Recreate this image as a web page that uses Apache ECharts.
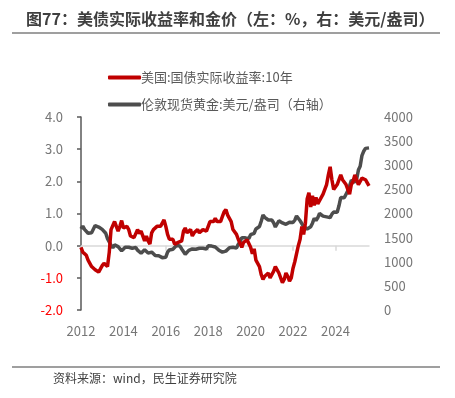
<!DOCTYPE html>
<html><head><meta charset="utf-8">
<script src="https://cdn.jsdelivr.net/npm/echarts@6/dist/echarts.min.js"></script>
<style>html,body{margin:0;padding:0;background:#fff}#c{width:455px;height:398px}</style>
</head><body><div id="c"></div>
<script>
const titleText = '图77：美债实际收益率和金价（左：%，右：美元/盎司）';
const sourceText = '资料来源：wind，民生证券研究院';
const seriesNames = ['美国:国债实际收益率:10年', '伦敦现货黄金:美元/盎司（右轴）'];
const leftTicks = [-2, -1, 0, 1, 2, 3, 4];
const rightTicks = [0, 500, 1000, 1500, 2000, 2500, 3000, 3500, 4000];

// monthly, 2012-01 .. 2025-08
const realYield = [
  -0.05,-0.2,-0.15,-0.3,-0.45,-0.55,-0.65,-0.6,-0.75,-0.8,-0.82,-0.72,
  -0.62,-0.55,-0.6,-0.65,-0.2,0.5,0.45,0.75,0.7,0.45,0.6,0.78,
  0.55,0.55,0.6,0.5,0.3,0.32,0.25,0.2,0.5,0.38,0.45,0.4,
  0.15,0.3,0.15,0.05,0.4,0.5,0.5,0.6,0.65,0.6,0.7,0.8,
  0.6,0.35,0.2,0.15,0.2,0.05,0.0,0.1,0.05,0.15,0.45,0.55,
  0.4,0.4,0.5,0.3,0.4,0.4,0.5,0.4,0.4,0.5,0.5,0.45,
  0.6,0.75,0.7,0.75,0.85,0.75,0.8,0.75,0.9,1.05,1.12,0.95,
  0.85,0.75,0.5,0.55,0.35,0.2,0.22,-0.05,0.1,0.12,0.18,0.12,
  -0.05,-0.25,-0.1,-0.45,-0.45,-0.65,-0.9,-1.05,-0.95,-0.9,-0.85,-1.0,
  -1.05,-0.8,-0.65,-0.75,-0.85,-0.85,-1.15,-1.05,-0.85,-0.95,-1.1,-1.0,
  -0.7,-0.5,-0.45,0.0,0.2,0.6,0.35,0.7,1.45,1.65,1.2,1.55,
  1.25,1.5,1.3,1.25,1.5,1.6,1.65,1.9,2.2,2.45,2.05,1.75,
  1.8,1.9,1.85,2.2,2.05,2.0,1.9,1.75,1.6,1.9,2.0,2.2,
  2.25,1.9,1.95,2.1,2.15,2.05,2.05,1.86
];
const goldPrice = [
  1680,1740,1670,1650,1590,1600,1600,1630,1750,1750,1720,1690,
  1670,1630,1590,1480,1410,1340,1290,1350,1350,1315,1275,1225,
  1245,1300,1335,1300,1285,1280,1310,1295,1240,1220,1175,1200,
  1250,1230,1180,1200,1200,1180,1130,1115,1125,1160,1085,1065,
  1095,1200,1245,1240,1260,1275,1335,1340,1325,1265,1240,1155,
  1190,1235,1230,1265,1245,1260,1235,1280,1315,1280,1280,1265,
  1330,1330,1325,1335,1305,1280,1240,1200,1200,1215,1220,1250,
  1290,1320,1300,1285,1285,1360,1415,1500,1510,1495,1470,1480,
  1560,1600,1590,1680,1715,1730,1840,1970,1920,1900,1865,1860,
  1865,1810,1720,1760,1850,1835,1805,1785,1775,1775,1820,1790,
  1815,1860,1950,1940,1850,1835,1730,1765,1680,1665,1725,1800,
  1900,1855,1910,2000,1990,1945,1950,1930,1915,1915,1985,2030,
  2035,2025,2160,2330,2350,2325,2400,2470,2570,2690,2650,2650,
  2710,2900,2980,3200,3290,3350,3340,3360
];
const startYear = 2012;
const months = realYield.map((_, i) => {
  const y = startYear + Math.floor(i / 12), m = i % 12 + 1;
  return y + '-' + (m < 10 ? '0' + m : m);
});

const FONT = '"Noto Sans CJK SC", "Noto Sans", sans-serif';
const chart = echarts.init(document.getElementById('c'), null, {renderer: 'canvas'});
const labelInterval = (idx) => idx % 24 === 0;
chart.setOption({
  animation: false,
  textStyle: {fontFamily: FONT},
  title: {
    text: titleText, left: 21, top: 6,
    textStyle: {fontSize: 16, fontWeight: 'bold', color: '#3f3f3f', fontFamily: FONT}
  },
  graphic: [
    {type: 'line', shape: {x1: 12, y1: 33, x2: 440, y2: 33}, style: {stroke: '#7f7f7f', lineWidth: 1.5}},
    {type: 'line', shape: {x1: 12, y1: 367, x2: 440, y2: 367}, style: {stroke: '#7f7f7f', lineWidth: 1.5}},
    {type: 'text', left: 53, top: 372, style: {text: sourceText, fontSize: 12, fill: '#404040', fontFamily: FONT}}
  ],
  legend: {
    data: [seriesNames[0], seriesNames[1]],
    orient: 'vertical', left: 103, top: 66, itemGap: 14,
    itemWidth: 33, itemHeight: 4, icon: 'roundRect',
    textStyle: {fontSize: 13, color: '#595959', fontFamily: FONT, padding: [0, 0, 0, -5]}
  },
  grid: {left: 81, right: 86, top: 117, bottom: 88, containLabel: false},
  xAxis: [
    {
      type: 'category', data: months, boundaryGap: false, position: 'bottom',
      axisLine: {show: false, onZero: false}, axisTick: {show: false},
      axisLabel: {interval: labelInterval, formatter: (v) => v.slice(0, 4), color: '#767676', fontSize: 13, margin: 15, fontFamily: FONT}
    },
    {
      type: 'category', data: months, boundaryGap: false, position: 'bottom',
      axisLine: {show: true, onZero: true, onZeroAxisIndex: 0, lineStyle: {color: '#d9d9d9', width: 1.5}},
      axisTick: {show: true, interval: labelInterval, length: 5, lineStyle: {color: '#d9d9d9', width: 1.5}},
      axisLabel: {show: false}
    }
  ],
  yAxis: [
    {
      type: 'value', min: leftTicks[0], max: leftTicks[leftTicks.length - 1], interval: 1, position: 'left',
      axisLine: {show: true, onZero: false, lineStyle: {color: '#595959', width: 1.5}},
      axisTick: {show: true, length: 4, lineStyle: {color: '#595959', width: 1.5}},
      splitLine: {show: false},
      axisLabel: {
        formatter: (v) => v.toFixed(1), fontSize: 13, margin: 18, fontFamily: FONT,
        color: (v) => (Number(v) < 0 ? '#ff0000' : '#767676')
      }
    },
    {
      type: 'value', min: rightTicks[0], max: rightTicks[rightTicks.length - 1], interval: 500, position: 'right',
      axisLine: {show: false}, axisTick: {show: false}, splitLine: {show: false},
      axisLabel: {formatter: (v) => String(v), fontSize: 13, color: '#767676', margin: 15, align: 'left', fontFamily: FONT}
    }
  ],
  series: [
    {
      name: seriesNames[1], type: 'line', data: goldPrice, xAxisIndex: 0, yAxisIndex: 1,
      showSymbol: false, symbol: 'none', lineStyle: {color: '#4d4d4d', width: 3.5}, itemStyle: {color: '#4d4d4d'}
    },
    {
      name: seriesNames[0], type: 'line', data: realYield, xAxisIndex: 0, yAxisIndex: 0,
      showSymbol: false, symbol: 'none', lineStyle: {color: '#c00000', width: 3.5}, itemStyle: {color: '#c00000'}
    }
  ]
});
</script></body></html>
